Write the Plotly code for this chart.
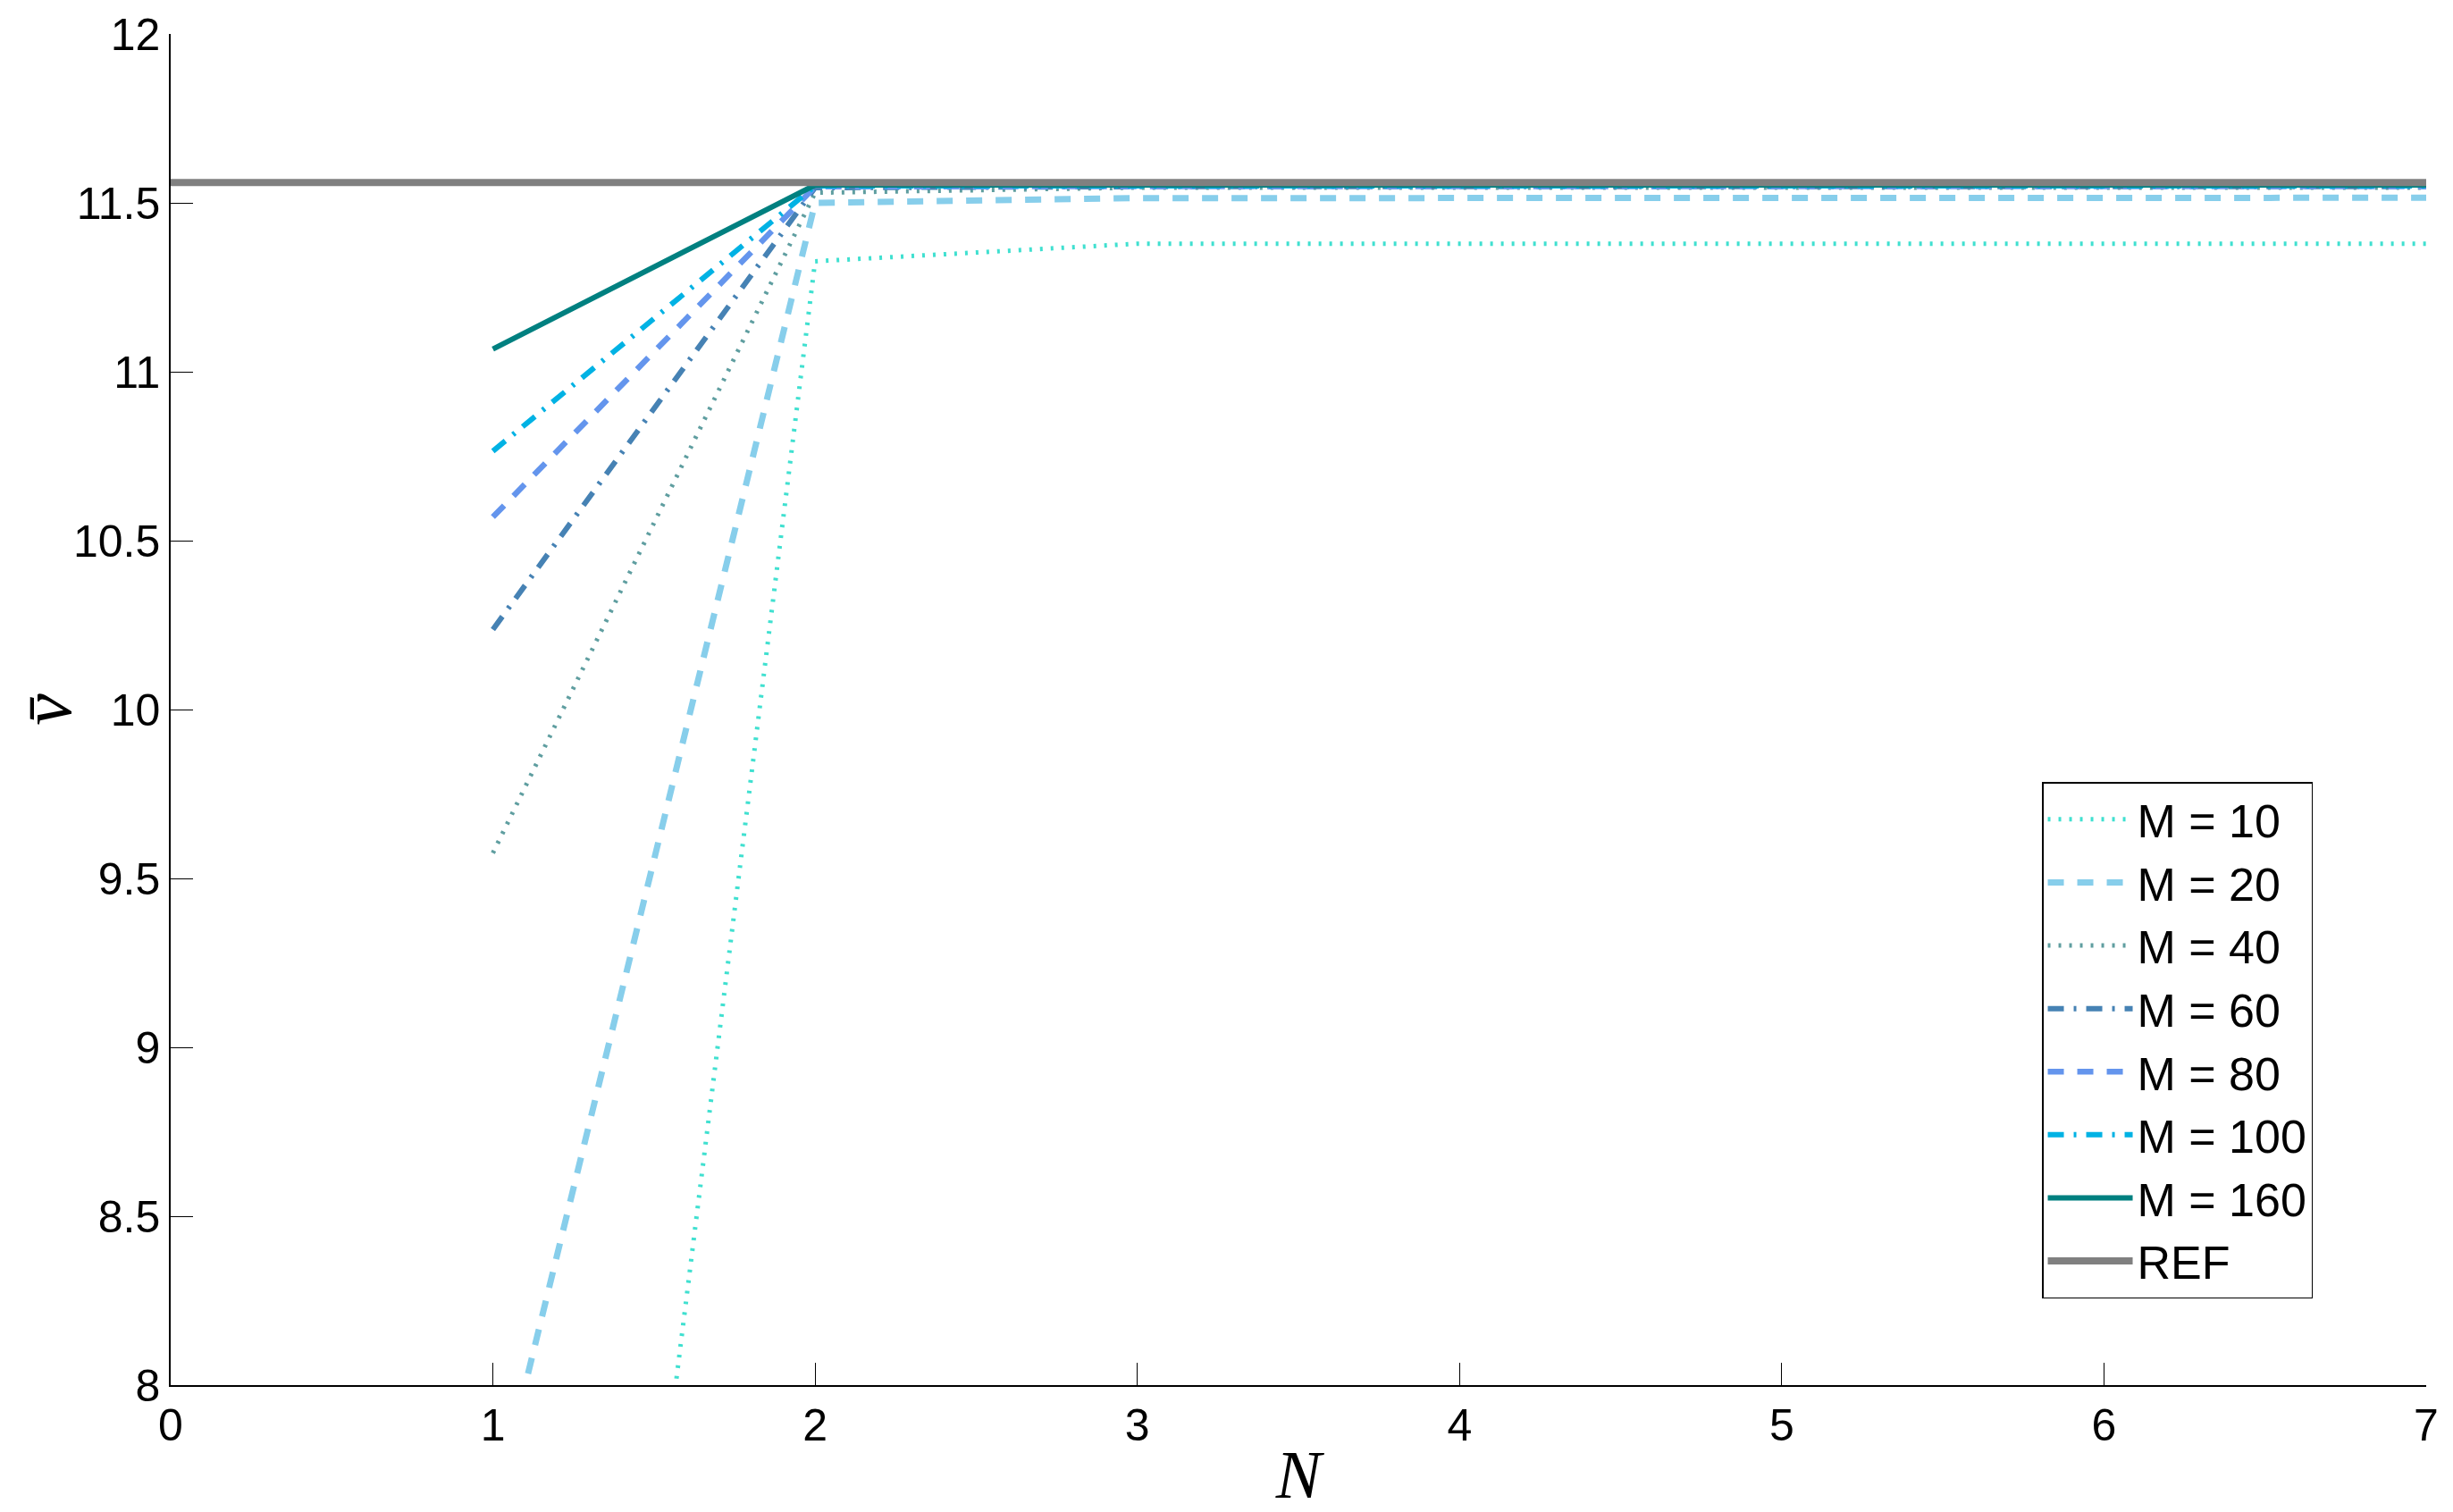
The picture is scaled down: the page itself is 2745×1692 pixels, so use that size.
import plotly.graph_objects as go

N = [1, 2, 3, 4, 5, 6, 7]
labels = ["M = 10", "M = 20", "M = 40", "M = 60", "M = 80", "M = 100", "M = 160", "REF"]
v_m10 = [3.64, 11.327, 11.379, 11.379, 11.379, 11.379, 11.379]
v_m20 = [7.61, 11.50, 11.514, 11.515, 11.515, 11.515, 11.515]
v_m40 = [9.575, 11.53, 11.545, 11.545, 11.545, 11.545, 11.545]
v_m60 = [10.237, 11.545, 11.548, 11.548, 11.548, 11.548, 11.548]
v_m80 = [10.57, 11.548, 11.549, 11.549, 11.549, 11.549, 11.549]
v_m100 = [10.765, 11.55, 11.55, 11.55, 11.55, 11.55, 11.55]
v_m160 = [11.067, 11.553, 11.553, 11.553, 11.553, 11.553, 11.553]
ref_x = [0, 7]
ref_v = [11.56, 11.56]

series = [v_m10, v_m20, v_m40, v_m60, v_m80, v_m100, v_m160]
colors = ["#40E0D0", "#87CEEB", "#5F9EA0", "#4682B4", "#6495ED", "#00B2E4", "#008080", "#808080"]
dashes = ["3px,9px", "18px,15px", "3px,9px", "18px,11px,3px,11px",
          "18px,15px", "18px,11px,3px,11px", "solid", "solid"]
widths = [5, 7, 5, 6, 6.5, 6, 6, 8]

fig = go.Figure()
for i, vals in enumerate(series):
    fig.add_trace(go.Scatter(x=N, y=vals, mode="lines", name=labels[i],
                             line=dict(color=colors[i], dash=dashes[i], width=widths[i])))
fig.add_trace(go.Scatter(x=ref_x, y=ref_v, mode="lines", name=labels[7],
                         line=dict(color=colors[7], dash=dashes[7], width=widths[7])))

fig.update_layout(
    width=2737, height=1684,
    margin=dict(l=183, r=30, t=30, b=142),
    plot_bgcolor="white", paper_bgcolor="white",
    font=dict(family="Liberation Sans, Arial, sans-serif", size=50, color="black"),
    showlegend=True,
    legend=dict(x=0.9497, y=0.4464, xanchor="right", yanchor="top",
                bgcolor="white", bordercolor="black", borderwidth=1.5,
                font=dict(size=52, family="Liberation Sans, Arial, sans-serif"),
                itemwidth=95, tracegroupgap=0),
)
fig.update_xaxes(range=[0, 7], tickvals=[0, 1, 2, 3, 4, 5, 6, 7], ticks="inside", ticklen=25,
                 tickcolor="black", showline=True, linecolor="black", linewidth=1.5,
                 showgrid=False, zeroline=False, automargin=False,
                 title=dict(text="<i>N</i>", standoff=2,
                            font=dict(family="Liberation Serif, DejaVu Serif, serif", size=76)))
fig.update_yaxes(range=[8, 12], tickvals=[8, 8.5, 9, 9.5, 10, 10.5, 11, 11.5, 12],
                 ticktext=["8", "8.5", "9", "9.5", "10", "10.5", "11", "11.5", "12"],
                 ticks="inside", ticklen=25,
                 tickcolor="black", showline=True, linecolor="black", linewidth=1.5,
                 showgrid=False, zeroline=False, automargin=False,
                 title=dict(text="<i>v\u0304</i>", standoff=15,
                            font=dict(family="Liberation Serif, DejaVu Serif, serif", size=80)))

fig.write_html("out.html")
